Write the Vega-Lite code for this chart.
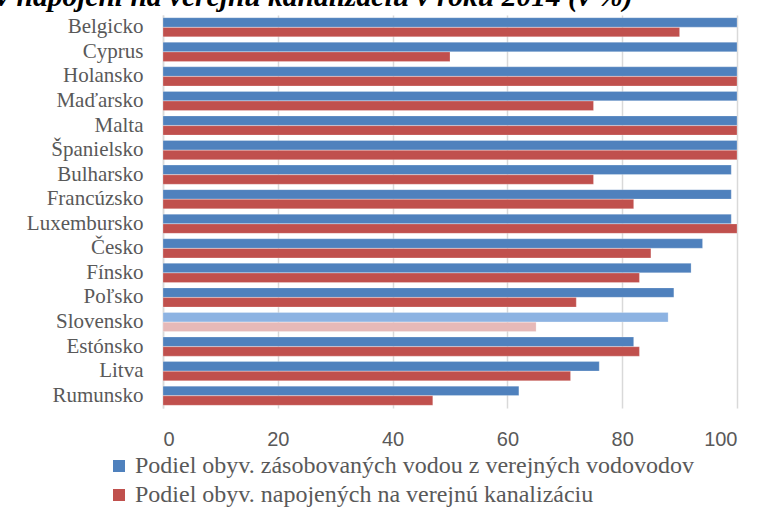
{
  "$schema": "https://vega.github.io/schema/vega-lite/v6.json",
  "autosize": {"type": "none"},
  "padding": {"left": 163, "top": 15, "right": 37, "bottom": 99},
  "width": 574,
  "height": 393,
  "background": "white",
  "title": {
    "text": "v napojení na verejnú kanalizáciu v roku 2014 (v %)",
    "anchor": "start",
    "frame": "group",
    "font": "Liberation Serif",
    "fontSize": 29.5,
    "fontWeight": "bold",
    "fontStyle": "italic",
    "color": "#000000",
    "baseline": "alphabetic",
    "offset": 0,
    "dy": 20,
    "dx": -167
  },
  "data": {
    "values": [
      {"krajina": "Belgicko", "ukazovatel": "voda", "hodnota": 100},
      {"krajina": "Belgicko", "ukazovatel": "kanal", "hodnota": 90},
      {"krajina": "Cyprus", "ukazovatel": "voda", "hodnota": 100},
      {"krajina": "Cyprus", "ukazovatel": "kanal", "hodnota": 50},
      {"krajina": "Holansko", "ukazovatel": "voda", "hodnota": 100},
      {"krajina": "Holansko", "ukazovatel": "kanal", "hodnota": 100},
      {"krajina": "Maďarsko", "ukazovatel": "voda", "hodnota": 100},
      {"krajina": "Maďarsko", "ukazovatel": "kanal", "hodnota": 75},
      {"krajina": "Malta", "ukazovatel": "voda", "hodnota": 100},
      {"krajina": "Malta", "ukazovatel": "kanal", "hodnota": 100},
      {"krajina": "Španielsko", "ukazovatel": "voda", "hodnota": 100},
      {"krajina": "Španielsko", "ukazovatel": "kanal", "hodnota": 100},
      {"krajina": "Bulharsko", "ukazovatel": "voda", "hodnota": 99},
      {"krajina": "Bulharsko", "ukazovatel": "kanal", "hodnota": 75},
      {"krajina": "Francúzsko", "ukazovatel": "voda", "hodnota": 99},
      {"krajina": "Francúzsko", "ukazovatel": "kanal", "hodnota": 82},
      {"krajina": "Luxembursko", "ukazovatel": "voda", "hodnota": 99},
      {"krajina": "Luxembursko", "ukazovatel": "kanal", "hodnota": 100},
      {"krajina": "Česko", "ukazovatel": "voda", "hodnota": 94},
      {"krajina": "Česko", "ukazovatel": "kanal", "hodnota": 85},
      {"krajina": "Fínsko", "ukazovatel": "voda", "hodnota": 92},
      {"krajina": "Fínsko", "ukazovatel": "kanal", "hodnota": 83},
      {"krajina": "Poľsko", "ukazovatel": "voda", "hodnota": 89},
      {"krajina": "Poľsko", "ukazovatel": "kanal", "hodnota": 72},
      {"krajina": "Slovensko", "ukazovatel": "voda", "hodnota": 88},
      {"krajina": "Slovensko", "ukazovatel": "kanal", "hodnota": 65},
      {"krajina": "Estónsko", "ukazovatel": "voda", "hodnota": 82},
      {"krajina": "Estónsko", "ukazovatel": "kanal", "hodnota": 83},
      {"krajina": "Litva", "ukazovatel": "voda", "hodnota": 76},
      {"krajina": "Litva", "ukazovatel": "kanal", "hodnota": 71},
      {"krajina": "Rumunsko", "ukazovatel": "voda", "hodnota": 62},
      {"krajina": "Rumunsko", "ukazovatel": "kanal", "hodnota": 47}
    ]
  },
  "mark": {"type": "bar", "stroke": "#ffffff", "strokeOpacity": 0.4, "strokeWidth": 0.6},
  "encoding": {
    "y": {
      "field": "krajina",
      "type": "nominal",
      "sort": null,
      "scale": {"paddingInner": 0.22, "paddingOuter": 0.11},
      "axis": {
        "title": null,
        "ticks": false,
        "domain": true,
        "domainColor": "#d9d9d9",
        "domainWidth": 1.5,
        "labelFont": "Liberation Serif",
        "labelFontSize": 21,
        "labelColor": "#595959",
        "labelPadding": 20
      }
    },
    "yOffset": {
      "field": "ukazovatel",
      "type": "nominal",
      "sort": ["voda", "kanal"],
      "scale": {"paddingInner": 0.03}
    },
    "x": {
      "field": "hodnota",
      "type": "quantitative",
      "scale": {"domain": [0, 100], "nice": false},
      "axis": {
        "title": null,
        "values": [0, 20, 40, 60, 80, 100],
        "ticks": false,
        "domain": false,
        "grid": true,
        "gridColor": "#d9d9d9",
        "gridWidth": 1.5,
        "labelFont": "Liberation Sans",
        "labelFontSize": 20,
        "labelColor": "#595959",
        "labelPadding": 21
      }
    },
    "color": {
      "condition": [
        {"test": "datum.krajina === 'Slovensko' && datum.ukazovatel === 'voda'", "value": "#8DB3E2"},
        {"test": "datum.krajina === 'Slovensko' && datum.ukazovatel === 'kanal'", "value": "#E6B9B8"}
      ],
      "field": "ukazovatel",
      "type": "nominal",
      "scale": {"domain": ["voda", "kanal"], "range": ["#4F81BD", "#C0504D"]},
      "legend": {
        "title": null,
        "orient": "none",
        "legendX": -56,
        "legendY": 439,
        "direction": "vertical",
        "symbolType": "square",
        "symbolSize": 144,
        "symbolStrokeWidth": 0,
        "labelFont": "Liberation Serif",
        "labelFontSize": 24,
        "labelColor": "#595959",
        "labelOffset": 4,
        "rowPadding": 5,
        "labelExpr": "datum.value === 'voda' ? 'Podiel obyv. zásobovaných vodou z verejných vodovodov' : 'Podiel obyv. napojených na verejnú kanalizáciu'",
        "labelLimit": 0
      }
    }
  },
  "config": {
    "view": {"stroke": null}
  }
}
